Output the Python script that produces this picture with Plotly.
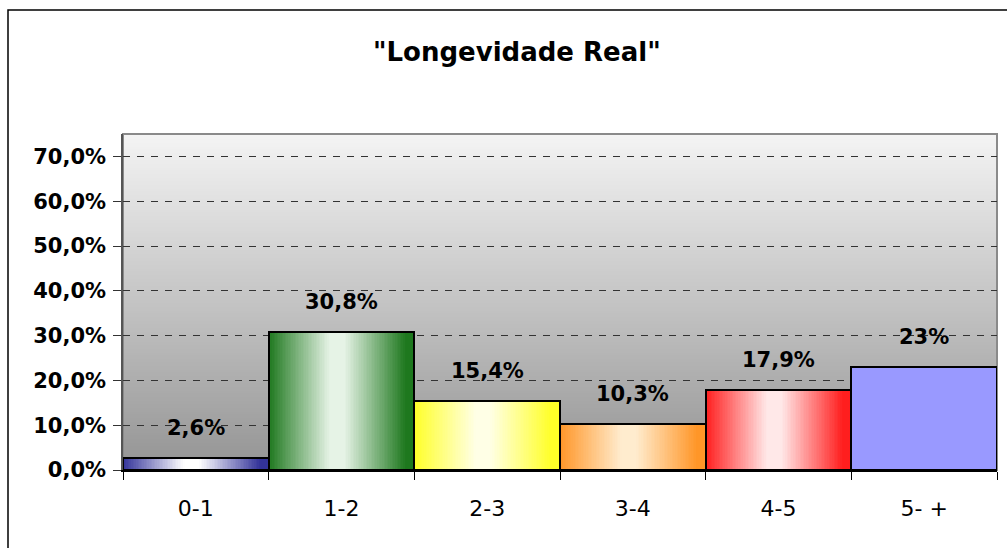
import base64, struct, zlib
import plotly.graph_objects as go

# ---- data ----
categories = ["0-1", "1-2", "2-3", "3-4", "4-5", "5- +"]
values = [2.6, 30.8, 15.4, 10.3, 17.9, 23.0]
value_labels = ["2,6%", "30,8%", "15,4%", "10,3%", "17,9%", "23%"]
y_tick_vals = [0, 10, 20, 30, 40, 50, 60, 70]
y_tick_text = ["0,0%", "10,0%", "20,0%", "30,0%", "40,0%", "50,0%", "60,0%", "70,0%"]
title_text = '"Longevidade Real"'

# ---- styles ----
edge_colors = [(51, 51, 153), (30, 120, 30), (255, 255, 40), (255, 150, 40), (255, 30, 30), (153, 153, 255)]
center_colors = [(255, 255, 255), (230, 243, 230), (255, 255, 230), (255, 236, 206), (255, 232, 232), (153, 153, 255)]

W, H = 1007, 548
L, R, T, B = 123, 10, 134, 78
pw, ph = W - L - R, H - T - B

def px_x(p):
    return (p - L) / pw

def px_y(p):
    return (H - B - p) / ph

# background vertical gradient png
def gradient_png(top, bottom, n=256):
    rows = b""
    for i in range(n):
        v = int(round(top + (bottom - top) * i / (n - 1)))
        rows += b"\x00" + bytes([v])
    def chunk(t, d):
        c = struct.pack(">I", len(d)) + t + d
        return c + struct.pack(">I", zlib.crc32(t + d) & 0xffffffff)
    png = b"\x89PNG\r\n\x1a\n"
    png += chunk(b"IHDR", struct.pack(">IIBBBBB", 1, n, 8, 0, 0, 0, 0))
    png += chunk(b"IDAT", zlib.compress(rows))
    png += chunk(b"IEND", b"")
    return "data:image/png;base64," + base64.b64encode(png).decode()

bg = gradient_png(244, 148)

fig = go.Figure()

N = 90
def mix(c1, c2, t):
    return "rgb(%d,%d,%d)" % tuple(round(a + (b - a) * t) for a, b in zip(c1, c2))

for k in range(N):
    u = (k + 0.5) / N
    d = max(0.0, abs(u - 0.47) - 0.05) / 0.42
    d = min(1.0, d)
    cols = [mix(center_colors[i], edge_colors[i], d) for i in range(len(categories))]
    off = -0.5 + k / N
    wid = min(2.0 / N, 0.5 - off)
    fig.add_trace(go.Bar(
        x=categories, y=values, width=wid, offset=off,
        marker=dict(color=cols, line=dict(width=0)),
        hoverinfo="skip", showlegend=False,
    ))

# outline
fig.add_trace(go.Bar(
    x=categories, y=values, width=1.0, offset=-0.5,
    marker=dict(color="rgba(0,0,0,0)", line=dict(color="black", width=2)),
    showlegend=False,
))

for c, v, t in zip(categories, values, value_labels):
    fig.add_annotation(x=c, y=v, text=t, showarrow=False, yanchor="middle", yshift=30,
                       font=dict(family="DejaVu Sans", size=21, color="black", weight="bold"))

fig.add_annotation(xref="paper", yref="paper", x=px_x(516.5), y=px_y(52), text=title_text,
                   showarrow=False, xanchor="center", yanchor="middle",
                   font=dict(family="DejaVu Sans", size=26, color="black", weight="bold"))

# plot area border
fig.add_shape(type="rect", xref="paper", yref="paper", x0=0, x1=1, y0=0, y1=1,
              line=dict(color="#8a8a8a", width=2), layer="below")
# outer chart border
fig.add_shape(type="rect", xref="paper", yref="paper", x0=px_x(8), x1=px_x(1015),
              y0=px_y(556), y1=px_y(10), line=dict(color="black", width=1.5))

fig.update_layout(
    width=W, height=H,
    margin=dict(l=L, r=R, t=T, b=B, pad=0),
    paper_bgcolor="white", plot_bgcolor="rgba(0,0,0,0)",
    barmode="overlay", bargap=0,
    showlegend=False,
    images=[dict(source=bg, xref="paper", yref="paper", x=0, y=1, sizex=1, sizey=1,
                 sizing="stretch", xanchor="left", yanchor="top", layer="below")],
    xaxis=dict(
        type="category", range=[-0.5, 5.5], tickson="boundaries", ticks="outside",
        ticklen=8, tickcolor="black", tickwidth=1.2, showline=True, linecolor="black",
        linewidth=1.5, showgrid=False, ticklabelstandoff=18,
        tickfont=dict(family="DejaVu Sans", size=22, color="black"),
    ),
    yaxis=dict(
        range=[0, 75], tickvals=y_tick_vals, ticktext=y_tick_text, ticks="outside",
        ticklen=8, tickcolor="#333333", tickwidth=1.2, showline=True, linecolor="#555555",
        linewidth=1.5, showgrid=True, gridcolor="#333333", gridwidth=1, griddash="7px,7px",
        zeroline=False, ticklabelstandoff=3,
        tickfont=dict(family="DejaVu Sans", size=21, color="black", weight="bold"),
    ),
)

fig.write_html("out.html")
